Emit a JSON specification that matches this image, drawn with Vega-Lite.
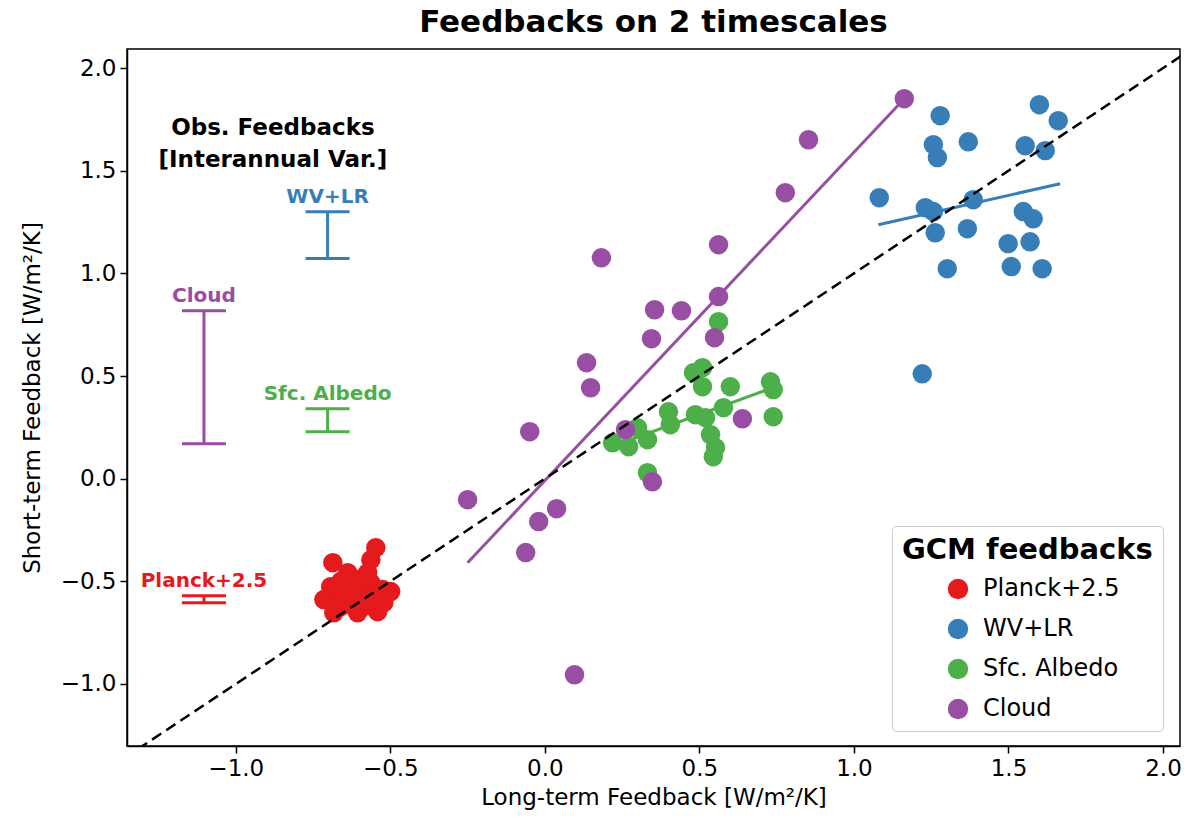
{
  "$schema": "https://vega.github.io/schema/vega-lite/v6.json",
  "width": 1053,
  "height": 697,
  "autosize": {"type": "none"},
  "padding": {"left": 127, "top": 49, "right": 8, "bottom": 83},
  "background": "white",
  "title": {"text": "Feedbacks on 2 timescales", "font": "DejaVu Sans", "fontSize": 31, "fontWeight": "bold", "color": "black", "anchor": "middle", "offset": 10},
  "config": {
    "view": {"stroke": "black", "strokeWidth": 1.5},
    "axis": {"grid": false, "domainColor": "black", "domainWidth": 1.5, "tickColor": "black", "tickWidth": 1.5, "tickSize": 7, "labelFont": "DejaVu Sans", "labelFontSize": 23, "labelColor": "black", "labelFlush": false, "labelOverlap": false, "titleFont": "DejaVu Sans", "titleFontSize": 23, "titleFontWeight": "normal", "titleColor": "black"},
    "legend": {"orient": "none", "legendX": 765, "legendY": 477, "fillColor": "rgba(255,255,255,0.85)", "strokeColor": "#cccccc", "cornerRadius": 4, "padding": 10, "titleFont": "DejaVu Sans", "titleFontSize": 29, "titleFontWeight": "bold", "titleColor": "black", "titlePadding": 12, "titleLimit": 500, "labelLimit": 400, "labelFont": "DejaVu Sans", "labelFontSize": 24, "labelColor": "black", "symbolType": "circle", "symbolSize": 415, "symbolStrokeWidth": 0, "symbolOpacity": 1, "rowPadding": 16, "symbolOffset": 44, "labelOffset": 13}
  },
  "datasets": {
    "points": [
      {"group": "Planck+2.5", "x": -0.686, "y": -0.409},
      {"group": "Planck+2.5", "x": -0.547, "y": -0.336},
      {"group": "Planck+2.5", "x": -0.563, "y": -0.395},
      {"group": "Planck+2.5", "x": -0.573, "y": -0.458},
      {"group": "Planck+2.5", "x": -0.693, "y": -0.526},
      {"group": "Planck+2.5", "x": -0.715, "y": -0.589},
      {"group": "Planck+2.5", "x": -0.661, "y": -0.623},
      {"group": "Planck+2.5", "x": -0.606, "y": -0.653},
      {"group": "Planck+2.5", "x": -0.541, "y": -0.648},
      {"group": "Planck+2.5", "x": -0.499, "y": -0.550},
      {"group": "Planck+2.5", "x": -0.628, "y": -0.550},
      {"group": "Planck+2.5", "x": -0.596, "y": -0.589},
      {"group": "Planck+2.5", "x": -0.563, "y": -0.507},
      {"group": "Planck+2.5", "x": -0.638, "y": -0.458},
      {"group": "Planck+2.5", "x": -0.521, "y": -0.604},
      {"group": "Planck+2.5", "x": -0.683, "y": -0.653},
      {"group": "Planck+2.5", "x": -0.660, "y": -0.500},
      {"group": "Planck+2.5", "x": -0.620, "y": -0.500},
      {"group": "Planck+2.5", "x": -0.600, "y": -0.530},
      {"group": "Planck+2.5", "x": -0.650, "y": -0.580},
      {"group": "Planck+2.5", "x": -0.580, "y": -0.620},
      {"group": "Planck+2.5", "x": -0.550, "y": -0.560},
      {"group": "Planck+2.5", "x": -0.620, "y": -0.620},
      {"group": "Planck+2.5", "x": -0.680, "y": -0.600},
      {"group": "Planck+2.5", "x": -0.600, "y": -0.570},
      {"group": "Planck+2.5", "x": -0.525, "y": -0.540},
      {"group": "Planck+2.5", "x": -0.585, "y": -0.480},
      {"group": "WV+LR", "x": 1.600, "y": 1.822},
      {"group": "WV+LR", "x": 1.661, "y": 1.744},
      {"group": "WV+LR", "x": 1.279, "y": 1.768},
      {"group": "WV+LR", "x": 1.257, "y": 1.627},
      {"group": "WV+LR", "x": 1.270, "y": 1.564},
      {"group": "WV+LR", "x": 1.370, "y": 1.641},
      {"group": "WV+LR", "x": 1.554, "y": 1.622},
      {"group": "WV+LR", "x": 1.619, "y": 1.598},
      {"group": "WV+LR", "x": 1.082, "y": 1.369},
      {"group": "WV+LR", "x": 1.231, "y": 1.320},
      {"group": "WV+LR", "x": 1.257, "y": 1.301},
      {"group": "WV+LR", "x": 1.386, "y": 1.359},
      {"group": "WV+LR", "x": 1.263, "y": 1.198},
      {"group": "WV+LR", "x": 1.367, "y": 1.218},
      {"group": "WV+LR", "x": 1.548, "y": 1.301},
      {"group": "WV+LR", "x": 1.580, "y": 1.266},
      {"group": "WV+LR", "x": 1.570, "y": 1.154},
      {"group": "WV+LR", "x": 1.499, "y": 1.145},
      {"group": "WV+LR", "x": 1.302, "y": 1.023},
      {"group": "WV+LR", "x": 1.509, "y": 1.033},
      {"group": "WV+LR", "x": 1.609, "y": 1.023},
      {"group": "WV+LR", "x": 1.221, "y": 0.511},
      {"group": "Sfc. Albedo", "x": 0.562, "y": 0.765},
      {"group": "Sfc. Albedo", "x": 0.481, "y": 0.516},
      {"group": "Sfc. Albedo", "x": 0.510, "y": 0.541},
      {"group": "Sfc. Albedo", "x": 0.510, "y": 0.448},
      {"group": "Sfc. Albedo", "x": 0.600, "y": 0.448},
      {"group": "Sfc. Albedo", "x": 0.730, "y": 0.472},
      {"group": "Sfc. Albedo", "x": 0.739, "y": 0.434},
      {"group": "Sfc. Albedo", "x": 0.739, "y": 0.302},
      {"group": "Sfc. Albedo", "x": 0.578, "y": 0.346},
      {"group": "Sfc. Albedo", "x": 0.400, "y": 0.326},
      {"group": "Sfc. Albedo", "x": 0.406, "y": 0.263},
      {"group": "Sfc. Albedo", "x": 0.487, "y": 0.312},
      {"group": "Sfc. Albedo", "x": 0.520, "y": 0.297},
      {"group": "Sfc. Albedo", "x": 0.536, "y": 0.214},
      {"group": "Sfc. Albedo", "x": 0.545, "y": 0.107},
      {"group": "Sfc. Albedo", "x": 0.552, "y": 0.151},
      {"group": "Sfc. Albedo", "x": 0.219, "y": 0.175},
      {"group": "Sfc. Albedo", "x": 0.271, "y": 0.156},
      {"group": "Sfc. Albedo", "x": 0.332, "y": 0.190},
      {"group": "Sfc. Albedo", "x": 0.300, "y": 0.248},
      {"group": "Sfc. Albedo", "x": 0.332, "y": 0.029},
      {"group": "Cloud", "x": 1.163, "y": 1.851},
      {"group": "Cloud", "x": 0.853, "y": 1.651},
      {"group": "Cloud", "x": 0.778, "y": 1.393},
      {"group": "Cloud", "x": 0.183, "y": 1.076},
      {"group": "Cloud", "x": 0.562, "y": 1.140},
      {"group": "Cloud", "x": 0.562, "y": 0.887},
      {"group": "Cloud", "x": 0.549, "y": 0.687},
      {"group": "Cloud", "x": 0.355, "y": 0.823},
      {"group": "Cloud", "x": 0.442, "y": 0.818},
      {"group": "Cloud", "x": 0.345, "y": 0.682},
      {"group": "Cloud", "x": 0.135, "y": 0.565},
      {"group": "Cloud", "x": 0.148, "y": 0.443},
      {"group": "Cloud", "x": -0.049, "y": 0.229},
      {"group": "Cloud", "x": 0.261, "y": 0.239},
      {"group": "Cloud", "x": 0.639, "y": 0.292},
      {"group": "Cloud", "x": 0.348, "y": -0.015},
      {"group": "Cloud", "x": -0.250, "y": -0.102},
      {"group": "Cloud", "x": -0.020, "y": -0.209},
      {"group": "Cloud", "x": 0.038, "y": -0.146},
      {"group": "Cloud", "x": -0.062, "y": -0.360},
      {"group": "Cloud", "x": 0.096, "y": -0.955}
    ],
    "fits": [
      {"group": "Planck+2.5", "x": -0.715, "y": -0.585},
      {"group": "Planck+2.5", "x": -0.499, "y": -0.510},
      {"group": "WV+LR", "x": 1.079, "y": 1.237},
      {"group": "WV+LR", "x": 1.667, "y": 1.437},
      {"group": "Sfc. Albedo", "x": 0.219, "y": 0.158},
      {"group": "Sfc. Albedo", "x": 0.739, "y": 0.444},
      {"group": "Cloud", "x": -0.250, "y": -0.409},
      {"group": "Cloud", "x": 1.163, "y": 1.851}
    ],
    "obs": [
      {"group": "Planck+2.5", "x": -1.103, "lo": -0.604, "hi": -0.570},
      {"group": "WV+LR", "x": -0.703, "lo": 1.072, "hi": 1.300},
      {"group": "Sfc. Albedo", "x": -0.703, "lo": 0.229, "hi": 0.341},
      {"group": "Cloud", "x": -1.103, "lo": 0.170, "hi": 0.818}
    ],
    "diag": [
      {"x": -1.5, "y": -1.5},
      {"x": 2.2, "y": 2.2}
    ]
  },
  "layer": [
    {
      "data": {"name": "points"},
      "mark": {"type": "circle", "size": 380, "opacity": 1},
      "encoding": {
        "x": {"field": "x", "type": "quantitative", "scale": {"domain": [-1.352, 2.055], "nice": false, "zero": false}, "axis": {"values": [-1, -0.5, 0, 0.5, 1, 1.5, 2], "format": ".1f", "title": "Long-term Feedback [W/m²/K]", "labelPadding": 4, "titlePadding": 6}},
        "y": {"field": "y", "type": "quantitative", "scale": {"domain": [-1.302, 2.093], "nice": false, "zero": false}, "axis": {"values": [-1, -0.5, 0, 0.5, 1, 1.5, 2], "format": ".1f", "title": "Short-term Feedback  [W/m²/K]", "labelPadding": 4, "titlePadding": 16}},
        "color": {"field": "group", "type": "nominal", "scale": {"domain": ["Planck+2.5", "WV+LR", "Sfc. Albedo", "Cloud"], "range": ["#e41a1c", "#377eb8", "#4daf4a", "#984ea3"]}, "legend": {"title": "GCM feedbacks", "symbolSize": 415, "titleLimit": 500}}
      }
    },
    {
      "data": {"name": "fits"},
      "mark": {"type": "line", "strokeWidth": 3},
      "encoding": {
        "x": {"field": "x", "type": "quantitative"},
        "y": {"field": "y", "type": "quantitative"},
        "color": {"field": "group", "type": "nominal", "legend": null}
      }
    },
    {
      "data": {"name": "obs"},
      "mark": {"type": "rule", "strokeWidth": 3},
      "encoding": {
        "x": {"field": "x", "type": "quantitative"},
        "y": {"field": "lo", "type": "quantitative"},
        "y2": {"field": "hi"},
        "color": {"field": "group", "type": "nominal", "legend": null}
      }
    },
    {
      "data": {"name": "obs"},
      "mark": {"type": "tick", "orient": "horizontal", "size": 44, "thickness": 3, "opacity": 1},
      "encoding": {
        "x": {"field": "x", "type": "quantitative"},
        "y": {"field": "lo", "type": "quantitative"},
        "color": {"field": "group", "type": "nominal", "legend": null}
      }
    },
    {
      "data": {"name": "obs"},
      "mark": {"type": "tick", "orient": "horizontal", "size": 44, "thickness": 3, "opacity": 1},
      "encoding": {
        "x": {"field": "x", "type": "quantitative"},
        "y": {"field": "hi", "type": "quantitative"},
        "color": {"field": "group", "type": "nominal", "legend": null}
      }
    },
    {
      "data": {"name": "obs"},
      "mark": {"type": "text", "font": "DejaVu Sans", "fontSize": 20, "fontWeight": "bold", "baseline": "alphabetic", "align": "center", "dy": -9},
      "encoding": {
        "x": {"field": "x", "type": "quantitative"},
        "y": {"field": "hi", "type": "quantitative"},
        "text": {"field": "group"},
        "color": {"field": "group", "type": "nominal", "legend": null}
      }
    },
    {
      "data": {"values": [{"label": "Obs. Feedbacks\n[Interannual Var.]"}]},
      "mark": {"type": "text", "font": "DejaVu Sans", "fontSize": 23, "fontWeight": "bold", "color": "black", "align": "center", "baseline": "middle", "lineBreak": "\n", "lineHeight": 32},
      "encoding": {
        "x": {"datum": -0.88, "type": "quantitative"},
        "y": {"datum": 1.71, "type": "quantitative"},
        "text": {"field": "label"}
      }
    },
    {
      "data": {"name": "diag"},
      "mark": {"type": "line", "color": "black", "strokeWidth": 2.5, "strokeDash": [11, 6], "clip": true},
      "encoding": {
        "x": {"field": "x", "type": "quantitative"},
        "y": {"field": "y", "type": "quantitative"}
      }
    }
  ]
}
